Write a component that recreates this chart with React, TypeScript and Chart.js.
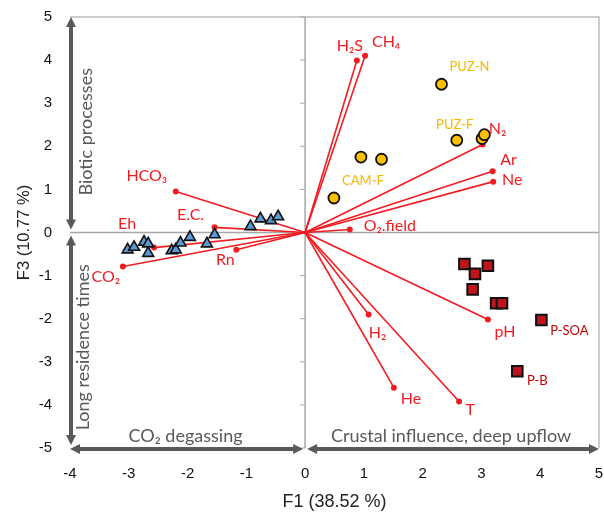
import React, { useEffect, useRef } from "react";
import { Chart, registerables } from "chart.js";

Chart.register(...registerables);

// ---- axis ticks ----
const xTicks = [-4, -3, -2, -1, 0, 1, 2, 3, 4, 5];
const yTicks = [-5, -4, -3, -2, -1, 0, 1, 2, 3, 4, 5];

// ---- variable loadings (vectors) ----
const vectorNames = ["H₂S", "CH₄", "N₂", "Ar", "Ne", "O₂.field", "HCO₃", "E.C.", "Eh", "CO₂", "Rn", "pH", "H₂", "He", "T"];
const vectorF1 = [0.88, 1.02, 3.02, 3.19, 3.2, 0.76, -2.2, -1.54, -2.57, -3.1, -1.17, 3.11, 1.08, 1.51, 2.62];
const vectorF3 = [3.99, 4.1, 2.04, 1.42, 1.18, 0.07, 0.95, 0.12, -0.35, -0.79, -0.4, -2.02, -1.9, -3.6, -3.92];

// ---- sample groups ----
const circleLabels = ["PUZ-N", "PUZ-F", "", "", "", "", "CAM-F"];
const circleF1 = [2.32, 2.58, 3.01, 3.05, 0.95, 1.3, 0.49];
const circleF3 = [3.44, 2.14, 2.18, 2.27, 1.75, 1.7, 0.8];

const squareLabels = ["", "", "", "", "", "", "P-SOA", "P-B"];
const squareF1 = [2.71, 3.11, 2.89, 2.85, 3.25, 3.35, 4.02, 3.61];
const squareF3 = [-0.73, -0.77, -0.96, -1.32, -1.64, -1.64, -2.03, -3.22];

const triangleF1 = [-3.02, -2.91, -2.74, -2.67, -2.67, -2.27, -2.2, -2.12, -1.96, -1.67, -1.54, -0.93, -0.76, -0.58, -0.46];
const triangleF3 = [-0.4, -0.34, -0.22, -0.26, -0.48, -0.42, -0.4, -0.24, -0.11, -0.26, -0.05, 0.14, 0.32, 0.28, 0.37];

// ---- annotation texts ----
const xTitle = "F1 (38.52 %)";
const yTitle = "F3 (10.77 %)";
const upperLeftNote = "Biotic processes";
const lowerLeftNote = "Long residence times";
const bottomLeftNote = "CO₂ degassing";
const bottomRightNote = "Crustal influence, deep upflow";

// label placement offsets (pixels, from the mark)
const vectorLabelOffsets: [number, number][] = [
  [-7, -15], [21, -14], [15, -16], [16, -11], [19, -2], [40, -4], [-29, -16], [-24, -12],
  [-27, -24], [-17, 10], [-11, 10], [17, 12], [9, 18], [17, 11], [11, 8],
];
const circleLabelOffsets: [number, number][] = [[28, -17], [-2, -15], [0, 0], [0, 0], [0, 0], [0, 0], [29, -17]];
const squareLabelOffsets: [number, number][] = [[0, 0], [0, 0], [0, 0], [0, 0], [0, 0], [0, 0], [28, 11], [20, 10]];

const RED = "#f01c22";
const GRAY = "#595959";
const LABEL_FONT = "Lato, 'Open Sans', sans-serif";
const TICK_FONT = "15px 'Liberation Sans', Arial, sans-serif";

function arrowHead(ctx: CanvasRenderingContext2D, x: number, y: number, dx: number, dy: number) {
  const L = 10, W = 5;
  const px = -dy, py = dx;
  ctx.beginPath();
  ctx.moveTo(x, y);
  ctx.lineTo(x - dx * L + px * W, y - dy * L + py * W);
  ctx.lineTo(x - dx * L - px * W, y - dy * L - py * W);
  ctx.closePath();
  ctx.fill();
}

function doubleArrow(ctx: CanvasRenderingContext2D, x1: number, y1: number, x2: number, y2: number) {
  const len = Math.hypot(x2 - x1, y2 - y1);
  const dx = (x2 - x1) / len, dy = (y2 - y1) / len;
  ctx.beginPath();
  ctx.moveTo(x1 + dx * 8, y1 + dy * 8);
  ctx.lineTo(x2 - dx * 8, y2 - dy * 8);
  ctx.stroke();
  arrowHead(ctx, x2, y2, dx, dy);
  arrowHead(ctx, x1, y1, -dx, -dy);
}

const decor = {
  id: "decor",
  beforeDatasetsDraw(chart: any) {
    const { ctx, chartArea: a, scales } = chart;
    const xs = scales.x, ys = scales.y;
    const x0 = xs.getPixelForValue(0), y0 = ys.getPixelForValue(0);
    ctx.save();
    ctx.strokeStyle = "#bdbdbd";
    ctx.lineWidth = 1.5;
    ctx.beginPath();
    ctx.moveTo(a.left, a.top); ctx.lineTo(a.right, a.top); ctx.lineTo(a.right, a.bottom);
    ctx.stroke();
    ctx.strokeStyle = "#a6a6a6";
    ctx.beginPath();
    ctx.moveTo(a.left, y0); ctx.lineTo(a.right, y0);
    ctx.moveTo(x0, a.top); ctx.lineTo(x0, a.bottom);
    ctx.stroke();
    ctx.lineWidth = 1;
    ctx.beginPath();
    yTicks.forEach((v) => {
      const py = ys.getPixelForValue(v);
      ctx.moveTo(x0 - 5, py); ctx.lineTo(x0, py);
    });
    ctx.stroke();
    // framing arrows
    ctx.strokeStyle = GRAY; ctx.fillStyle = GRAY; ctx.lineWidth = 4;
    const ax = a.left + 1;
    doubleArrow(ctx, ax, a.top, ax, y0 - 3);
    doubleArrow(ctx, ax, y0 + 3, ax, a.bottom - 3);
    const ay = a.bottom + 1;
    doubleArrow(ctx, a.left, ay, x0 - 2, ay);
    doubleArrow(ctx, x0 + 2, ay, a.right, ay);
    // x tick labels (positions from the x scale)
    ctx.fillStyle = "#111";
    ctx.font = TICK_FONT;
    ctx.textAlign = "center";
    ctx.textBaseline = "middle";
    xTicks.forEach((v) => ctx.fillText(String(v), xs.getPixelForValue(v), a.bottom + 26));
    ctx.restore();
  },
  afterDatasetsDraw(chart: any) {
    const { ctx, chartArea: a, scales } = chart;
    const xs = scales.x, ys = scales.y;
    ctx.save();
    ctx.textAlign = "center";
    ctx.textBaseline = "middle";
    // vector labels
    ctx.fillStyle = RED;
    ctx.font = `16px ${LABEL_FONT}`;
    vectorNames.forEach((n, i) => {
      const px = xs.getPixelForValue(vectorF1[i]) + vectorLabelOffsets[i][0];
      const py = ys.getPixelForValue(vectorF3[i]) + vectorLabelOffsets[i][1];
      ctx.fillText(n, px, py);
    });
    ctx.font = `13px ${LABEL_FONT}`;
    ctx.fillStyle = "#f5b800";
    circleLabels.forEach((n, i) => {
      if (!n) return;
      ctx.fillText(n, xs.getPixelForValue(circleF1[i]) + circleLabelOffsets[i][0], ys.getPixelForValue(circleF3[i]) + circleLabelOffsets[i][1]);
    });
    ctx.fillStyle = "#c00000";
    squareLabels.forEach((n, i) => {
      if (!n) return;
      ctx.fillText(n, xs.getPixelForValue(squareF1[i]) + squareLabelOffsets[i][0], ys.getPixelForValue(squareF3[i]) + squareLabelOffsets[i][1]);
    });
    // gray notes
    ctx.fillStyle = GRAY;
    ctx.font = `18px ${LABEL_FONT}`;
    const x0 = xs.getPixelForValue(0), y0 = ys.getPixelForValue(0);
    ctx.fillText(bottomLeftNote, (a.left + x0) / 2 - 2, a.bottom - 12);
    ctx.fillText(bottomRightNote, (x0 + a.right) / 2 - 1, a.bottom - 12);
    ctx.save();
    ctx.translate(a.left + 16, (a.top + y0) / 2 + 7);
    ctx.rotate(-Math.PI / 2);
    ctx.fillText(upperLeftNote, 0, 0);
    ctx.restore();
    ctx.save();
    ctx.translate(a.left + 13, (y0 + a.bottom) / 2 + 7);
    ctx.rotate(-Math.PI / 2);
    ctx.fillText(lowerLeftNote, 0, 0);
    ctx.restore();
    // axis titles
    ctx.fillStyle = "#222";
    ctx.font = "18px 'Liberation Sans', Arial, sans-serif";
    ctx.fillText(xTitle, (a.left + a.right) / 2, 502);
    ctx.font = "16.5px 'Liberation Sans', Arial, sans-serif";
    ctx.save();
    ctx.translate(24, (a.top + a.bottom) / 2);
    ctx.rotate(-Math.PI / 2);
    ctx.fillText(yTitle, 0, 0);
    ctx.restore();
    ctx.restore();
  },
};

export default function App() {
  const ref = useRef<HTMLCanvasElement | null>(null);
  useEffect(() => {
    document.body.style.margin = "0";
    if (!ref.current) return;
    const vectorSets = vectorNames.map((n, i) => ({
      type: "line" as const,
      label: n,
      data: [{ x: 0, y: 0 }, { x: vectorF1[i], y: vectorF3[i] }],
      showLine: true,
      borderColor: RED,
      borderWidth: 1.6,
      pointRadius: [0, 3],
      pointBackgroundColor: RED,
      pointBorderWidth: 0,
      order: 2,
    }));
    const chart = new Chart(ref.current, {
      type: "scatter",
      data: {
        datasets: [
          {
            label: "triangles",
            data: triangleF1.map((x, i) => ({ x, y: triangleF3[i] })),
            pointStyle: "triangle",
            pointRadius: 6.3,
            backgroundColor: "#5b9bd5",
            borderColor: "#111",
            borderWidth: 1.6,
            order: 0,
          },
          {
            label: "circles",
            data: circleF1.map((x, i) => ({ x, y: circleF3[i] })),
            pointStyle: "circle",
            pointRadius: 5.5,
            backgroundColor: "#ffc000",
            borderColor: "#111",
            borderWidth: 1.8,
            order: 0,
          },
          {
            label: "squares",
            data: squareF1.map((x, i) => ({ x, y: squareF3[i] })),
            pointStyle: "rect",
            pointRadius: 7.5,
            backgroundColor: "#c0141c",
            borderColor: "#111",
            borderWidth: 2,
            order: 0,
          },
          ...vectorSets,
        ] as any,
      },
      options: {
        animation: false,
        responsive: false,
        layout: { autoPadding: false, padding: { top: 17, right: 5, left: 0, bottom: 0 } },
        plugins: { legend: { display: false }, tooltip: { enabled: false } },
        scales: {
          x: {
            type: "linear",
            min: xTicks[0],
            max: xTicks[xTicks.length - 1],
            afterBuildTicks: (s: any) => { s.ticks = xTicks.map((v) => ({ value: v })); },
            ticks: { display: false },
            grid: { display: false, drawTicks: false },
            border: { display: false },
            afterFit: (s: any) => { s.height = 68; },
          },
          y: {
            type: "linear",
            min: yTicks[0],
            max: yTicks[yTicks.length - 1],
            afterBuildTicks: (s: any) => { s.ticks = yTicks.map((v) => ({ value: v })); },
            ticks: { font: { family: "'Liberation Sans', Arial, sans-serif", size: 15 }, color: "#111", padding: 18, autoSkip: false },
            grid: { display: false, drawTicks: false },
            border: { display: false },
            afterFit: (s: any) => { s.width = 70; s.paddingTop = 0; s.paddingBottom = 0; },
          },
        },
      } as any,
      plugins: [decor],
    });
    return () => chart.destroy();
  }, []);
  return <canvas ref={ref} width={604} height={516} style={{ display: "block" }} />;
}
